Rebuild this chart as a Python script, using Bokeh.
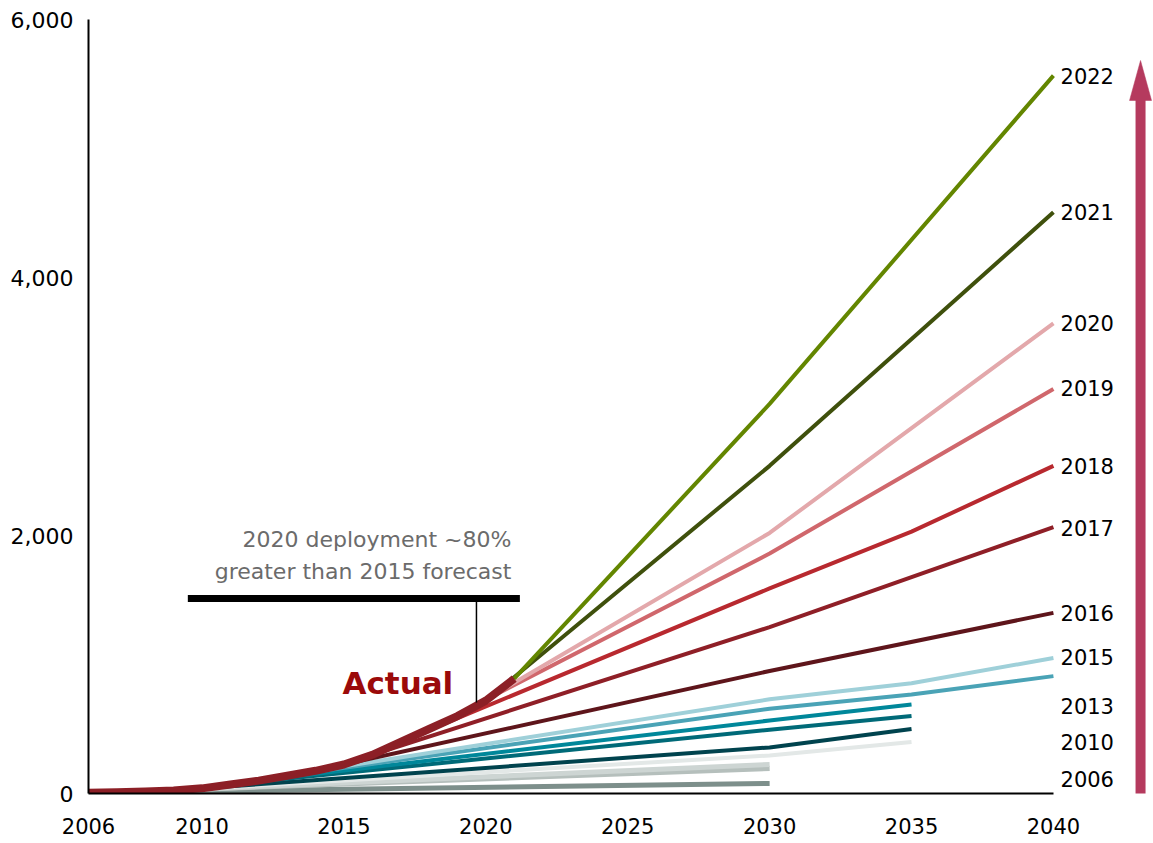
from bokeh.plotting import figure
from bokeh.models import Range1d, FixedTicker, NumeralTickFormatter
from bokeh.core.properties import value
from bokeh.embed import file_html
from bokeh.resources import INLINE

# ---------------- data ----------------
actual_years = [2006, 2007, 2008, 2009, 2010, 2011, 2012, 2013, 2014, 2015,
                2016, 2017, 2018, 2019, 2020, 2021]
actual_vals = [6, 9, 15, 23, 40, 70, 100, 138, 176, 225,
               300, 400, 500, 600, 720, 890]

f2006_x = [2006, 2030];               f2006_y = [6, 78]
f2008_x = [2007, 2030];               f2008_y = [9, 194]
f2009_x = [2008, 2030];               f2009_y = [15, 225]
f2010_x = [2009, 2030, 2035];         f2010_y = [23, 295, 400]
f2011_x = [2010, 2030, 2035];         f2011_y = [40, 357, 500]
f2012_x = [2011, 2030, 2035];         f2012_y = [70, 494, 600]
f2013_x = [2012, 2030, 2035];         f2013_y = [100, 566, 690]
f2014_x = [2013, 2030, 2035, 2040];   f2014_y = [138, 657, 767, 910]
f2015_x = [2014, 2030, 2035, 2040];   f2015_y = [176, 730, 855, 1050]
f2016_x = [2015, 2030, 2040];         f2016_y = [225, 950, 1400]
f2017_x = [2016, 2030, 2040];         f2017_y = [300, 1290, 2065]
f2018_x = [2017, 2030, 2035, 2040];   f2018_y = [400, 1590, 2030, 2540]
f2019_x = [2018, 2030, 2040];         f2019_y = [500, 1860, 3135]
f2020_x = [2019, 2030, 2040];         f2020_y = [600, 2020, 3645]
f2021_x = [2020, 2030, 2040];         f2021_y = [720, 2540, 4505]
f2022_x = [2021, 2030, 2040];         f2022_y = [890, 3020, 5565]

x_ticks = [2006, 2010, 2015, 2020, 2025, 2030, 2035, 2040]
y_ticks = [0, 2000, 4000, 6000]

right_labels = ["2022", "2021", "2020", "2019", "2018", "2017", "2016", "2015", "2013", "2010", "2006"]
right_label_y = [5565, 4505, 3645, 3140, 2535, 2060, 1400, 1055, 680, 400, 115]

# ---------------- styling ----------------
series = [
    (f2006_x, f2006_y, "#7d8f8b", 5),
    (f2008_x, f2008_y, "#b5bfbc", 5),
    (f2009_x, f2009_y, "#cdd5d3", 5),
    (f2010_x, f2010_y, "#e3e8e7", 4),
    (f2011_x, f2011_y, "#00434e", 4),
    (f2012_x, f2012_y, "#006a78", 4),
    (f2013_x, f2013_y, "#00879a", 4),
    (f2014_x, f2014_y, "#4aa3b6", 4),
    (f2015_x, f2015_y, "#9fd0d9", 4),
    (f2016_x, f2016_y, "#5e151b", 4),
    (f2017_x, f2017_y, "#8f1f27", 4),
    (f2018_x, f2018_y, "#b8292f", 4),
    (f2019_x, f2019_y, "#d0676c", 4),
    (f2020_x, f2020_y, "#e3a8ab", 4),
    (f2021_x, f2021_y, "#3f500c", 4),
    (f2022_x, f2022_y, "#638600", 4),
]

FONT = value("DejaVu Sans")
W, H = 1153, 843
LEFT, TOP, BOTTOM = 88, 19, 50
PX_PER_YEAR = 28.38
x_end = 2006 + (W - LEFT) / PX_PER_YEAR

p = figure(width=W, height=H, output_backend="svg", toolbar_location=None,
           x_range=Range1d(2006, x_end), y_range=Range1d(0, 6000),
           min_border_left=LEFT, min_border_right=0, min_border_top=TOP,
           min_border_bottom=BOTTOM)
p.outline_line_color = None
p.grid.visible = False
p.background_fill_color = "white"

# axes
xa = p.xaxis[0]
xa.ticker = FixedTicker(ticks=x_ticks)
xa.bounds = (2006, 2040)
xa.axis_line_width = 2
xa.axis_line_color = "black"
xa.major_tick_line_color = None
xa.minor_tick_line_color = None
xa.major_tick_out = 0
xa.major_tick_in = 0
xa.major_label_standoff = 24
xa.major_label_text_font = "DejaVu Sans"
xa.major_label_text_font_size = "21px"
xa.major_label_text_color = "black"

ya = p.yaxis[0]
ya.ticker = FixedTicker(ticks=y_ticks)
ya.formatter = NumeralTickFormatter(format="0,0")
ya.bounds = (0, 6000)
ya.axis_line_width = 2
ya.axis_line_color = "black"
ya.major_tick_line_color = None
ya.minor_tick_line_color = None
ya.major_tick_out = 0
ya.major_tick_in = 0
ya.major_label_standoff = 15
ya.major_label_text_font = "DejaVu Sans"
ya.major_label_text_font_size = "22px"
ya.major_label_text_color = "black"

# forecast lines
for xs, ys, col, lw in series:
    p.line(xs, ys, line_color=col, line_width=lw, line_join="round")

# actual
p.line(actual_years, actual_vals, line_color="#8c1f26", line_width=8,
       line_join="round")

# annotation bracket
p.segment(x0=[2009.5], y0=[1512], x1=[2021.2], y1=[1512], line_color="black", line_width=7)
p.segment(x0=[2019.67], y0=[1512], x1=[2019.67], y1=[705], line_color="black", line_width=1.5)
p.text(x=[2020.9, 2020.9], y=[1969, 1721],
       text=["2020 deployment ~80%", "greater than 2015 forecast"],
       text_font=FONT, text_font_size="22px", text_color="#6b6b6b",
       text_align="right", text_baseline="alphabetic")
p.text(x=[2016.9], y=[860], text=["Actual"], text_font=FONT, text_font_size="31px",
       text_font_style="bold", text_color="#9b0a0a", text_align="center",
       text_baseline="alphabetic")

# right-hand labels
p.text(x=[2040.25] * len(right_labels), y=right_label_y, text=right_labels,
       text_font=FONT, text_font_size="21px", text_color="black",
       text_align="left", text_baseline="middle")

# big arrow
ax = 2043.07
head_half = 11 / PX_PER_YEAR
p.segment(x0=[ax], y0=[-40], x1=[ax], y1=[5380], line_color="#b53a5e", line_width=10)
p.patch(x=[ax - head_half, ax + head_half, ax], y=[5372, 5372, 5682],
        fill_color="#b53a5e", line_color="#b53a5e", line_width=0.5)

open("out.html", "w").write(file_html(p, INLINE))
